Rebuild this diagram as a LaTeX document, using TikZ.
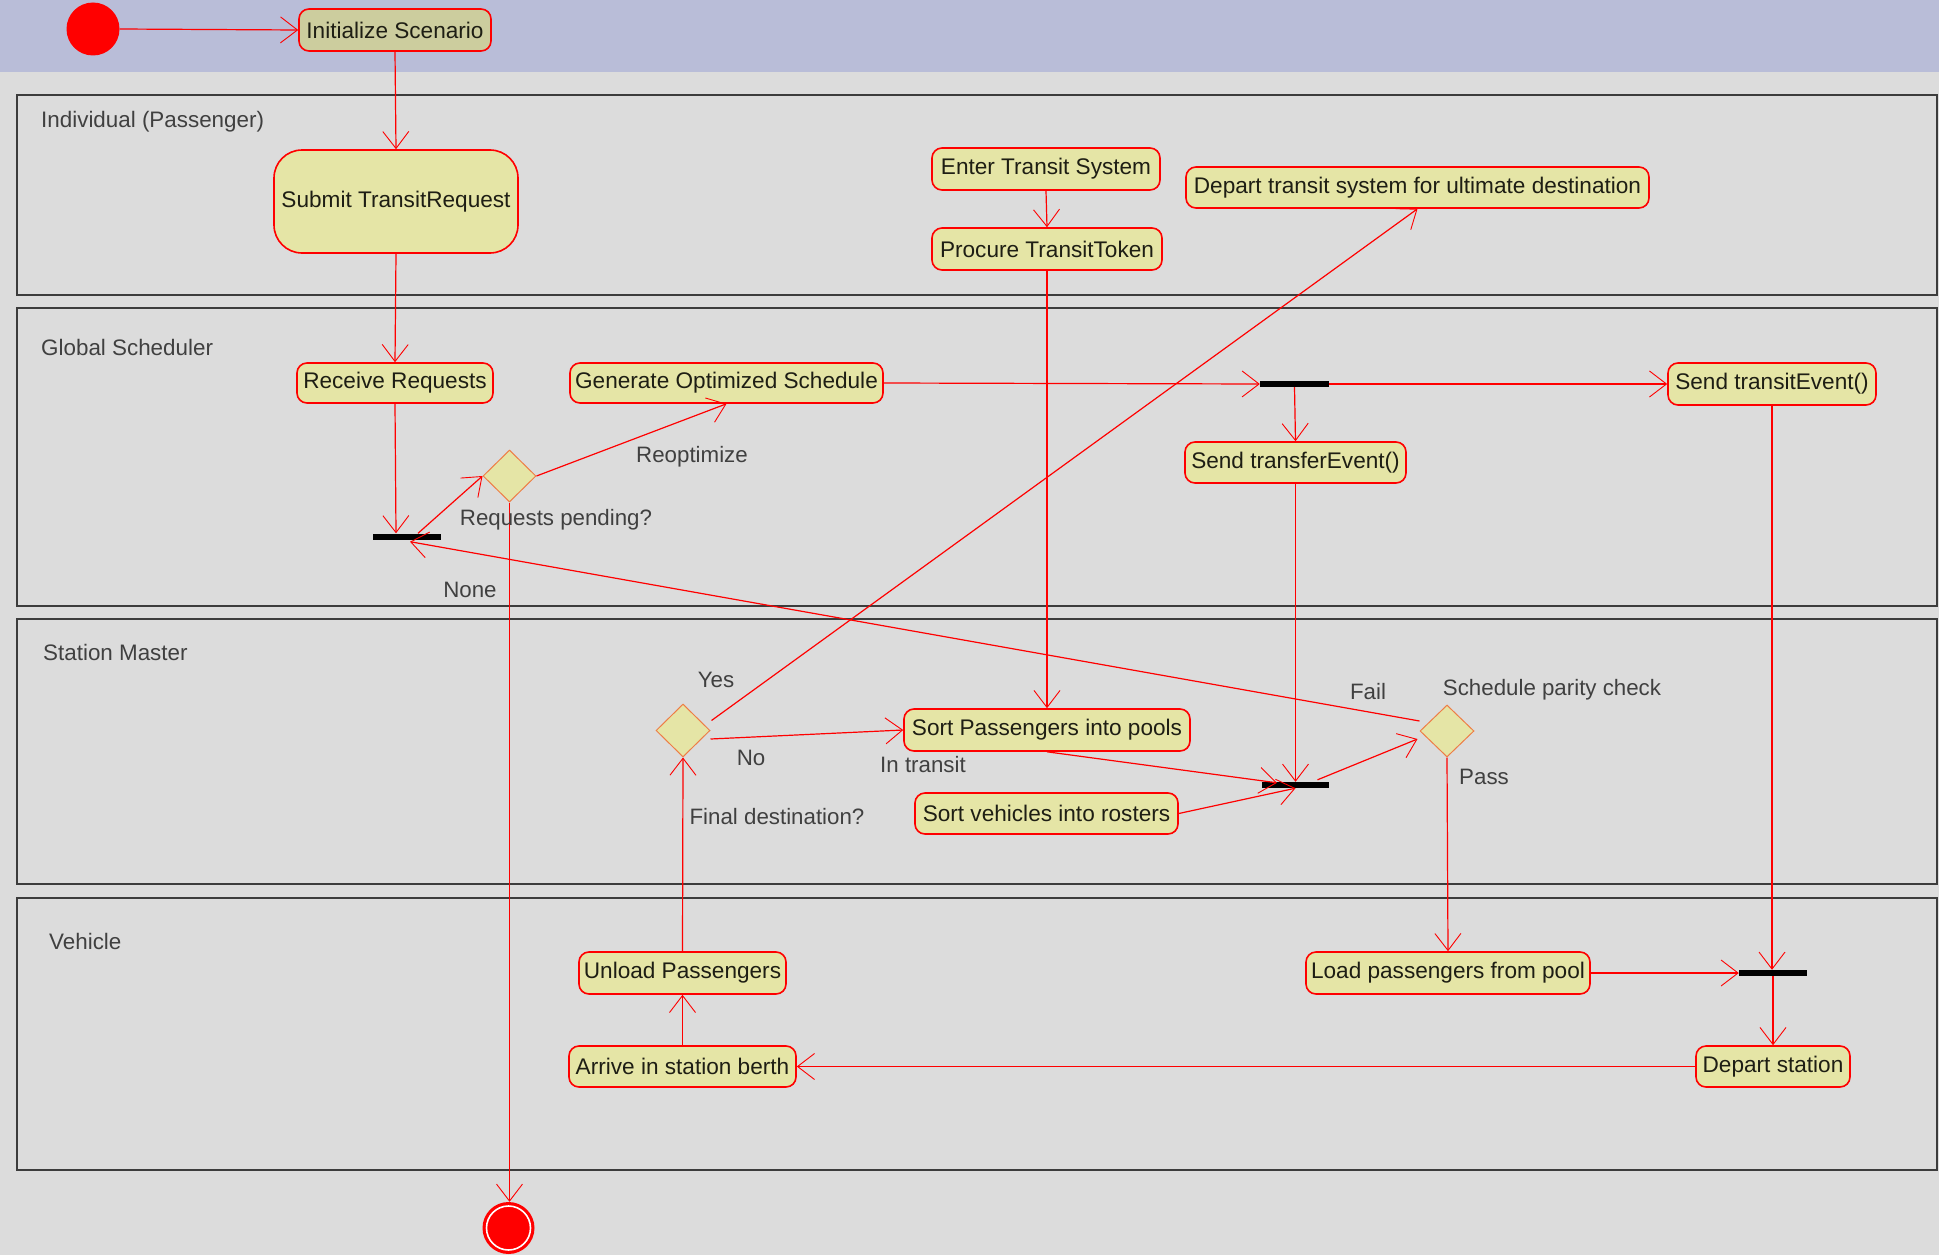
\documentclass[tikz,border=0pt]{standalone}
\usepackage{fontspec}
\setmainfont{Liberation Sans}
\usetikzlibrary{arrows.meta,shapes.geometric,calc}

\definecolor{bandblue}{RGB}{185,189,216}
\definecolor{canvas}{RGB}{220,220,220}
\definecolor{actfill}{RGB}{229,229,166}
\definecolor{initfill}{RGB}{204,205,158}
\definecolor{lanegray}{RGB}{60,60,60}
\definecolor{diaedge}{RGB}{238,125,70}
\definecolor{labelgray}{RGB}{64,64,64}
\definecolor{textdark}{RGB}{30,30,20}

\tikzset{
  activity/.style={draw=red, line width=1.6pt, fill=actfill, rounded corners=10pt,
    inner sep=0pt, text=textdark, font=\fontsize{22.6}{26}\selectfont},
  bar/.style={fill=black, draw=none, inner sep=0pt, minimum height=6pt},
  decision/.style={diamond, draw=diaedge, line width=1pt, fill=actfill, inner sep=0pt},
  flow/.style={draw=red, line width=1.2pt,
    -{Straight Barb[length=17pt,width=26pt,line width=0.9pt]}},
  guard/.style={text=labelgray, inner sep=0pt, font=\fontsize{22.3}{26}\selectfont},
  lane/.style={draw=lanegray, line width=2pt},
  lanename/.style={anchor=west, inner sep=0pt, text=labelgray, font=\fontsize{22.4}{26}\selectfont}
}

\begin{document}
\begin{tikzpicture}[x=1pt,y=-1pt]
  % canvas and title band
  \fill[canvas] (0,0) rectangle (1939,1255);
  \fill[bandblue] (0,0) rectangle (1939,72);
  \useasboundingbox (0,0) rectangle (1939,1255);

  % swimlanes
  \draw[lane] (17,95) rectangle (1937,295);
  \draw[lane] (17,308) rectangle (1937,606);
  \draw[lane] (17,619) rectangle (1937,884);
  \draw[lane] (17,898) rectangle (1937,1170);
  \node[lanename] (laneA) at (41,122) {Individual (Passenger)};
  \node[lanename] (laneB) at (41,347) {Global Scheduler};
  \node[lanename] (laneC) at (43,652) {Station Master};
  \node[lanename] (laneD) at (49,941) {Vehicle};

  % initial and final nodes
  \node[circle, fill=red, inner sep=0pt, minimum size=53pt] (start) at (93,29) {};
  \node[circle, fill=red, inner sep=0pt, minimum size=52pt] (final) at (508.5,1228) {};
  \draw[white, line width=1.6pt] (final.center) circle (22);

  % activities
  \node[activity, fill=initfill, minimum width=192pt, minimum height=42pt] (init) at (395,30) {Initialize Scenario};
  \node[activity, rounded corners=28pt, minimum width=244pt, minimum height=103pt] (submit) at (396,201.5) {Submit TransitRequest};
  \node[activity, minimum width=228pt, minimum height=42pt] (enter) at (1046,169) {Enter Transit System};
  \node[activity, minimum width=230pt, minimum height=42pt] (procure) at (1047,249) {Procure TransitToken};
  \node[activity, minimum width=463pt, minimum height=41pt] (departsys) at (1417.5,187.5) {Depart transit system for ultimate destination};
  \node[activity, minimum width=196pt, minimum height=40pt] (recv) at (395,383) {Receive Requests};
  \node[activity, minimum width=313pt, minimum height=40pt] (gen) at (726.5,383) {Generate Optimized Schedule};
  \node[activity, minimum width=208pt, minimum height=42pt] (transitev) at (1772,384) {Send transitEvent()};
  \node[activity, minimum width=221pt, minimum height=41pt] (transferev) at (1295.5,462.5) {Send transferEvent()};
  \node[activity, minimum width=286pt, minimum height=42pt] (sortpass) at (1047,730) {Sort Passengers into pools};
  \node[activity, minimum width=263pt, minimum height=41pt] (sortveh) at (1046.5,813.5) {Sort vehicles into rosters};
  \node[activity, minimum width=207pt, minimum height=42pt] (unload) at (682.5,973) {Unload Passengers};
  \node[activity, minimum width=227pt, minimum height=41pt] (arrive) at (682.5,1066.5) {Arrive in station berth};
  \node[activity, minimum width=284pt, minimum height=42pt] (loadp) at (1448,973) {Load passengers from pool};
  \node[activity, minimum width=154pt, minimum height=41pt] (departst) at (1773,1066.5) {Depart station};

  % fork / join bars
  \node[bar, minimum width=69pt] (fork1) at (1294.5,384) {};
  \node[bar, minimum width=68pt] (join2) at (407,536.5) {};
  \node[bar, minimum width=67pt] (join3) at (1295.5,785) {};
  \node[bar, minimum width=68pt] (fork4) at (1773,973) {};

  % decisions
  \node[decision, minimum width=53pt, minimum height=52pt] (reqpend) at (509.5,476) {};
  \node[decision, minimum width=54pt, minimum height=53pt] (finaldest) at (683,730.5) {};
  \node[decision, minimum width=54pt, minimum height=52pt] (parity) at (1447,731) {};

  % flows
  \draw[flow] (start.east) -- (init.west);
  \draw[flow] (init.south) -- (submit.north);
  \draw[flow] (submit.south) -- (recv.north);
  \draw[flow] (recv.south) -- ($(join2.north)+(-11,0)$);
  \draw[flow] ($(join2.north)+(11,0)$) -- (reqpend.west);
  \draw[flow] (reqpend.east) -- (gen.south);
  \draw[flow] (reqpend.south) -- (reqpend.south |- final.north);
  \draw[flow] (gen.east) -- (fork1.west);
  \draw[flow] (fork1.east) -- (transitev.west);
  \draw[flow] (fork1.south) -- (transferev.north);
  \draw[flow] (enter.south) -- (procure.north);
  \draw[flow] (procure.south) -- (sortpass.north);
  \draw[flow] (transferev.south) -- (join3.north);
  \draw[flow] (sortpass.south) -- ($(join3.north)+(-18.5,1)$);
  \draw[flow] (sortveh.east) -- (join3.south);
  \draw[flow] ($(join3.north)+(22,-2)$) -- ($(parity.west)+(-2,8)$);
  \draw[flow] ($(parity.west)+(0,-10)$) -- ($(join2.south)+(3,2)$);
  \draw[flow] (parity.south) -- (loadp.north);
  \draw[flow] ($(finaldest.east)+(1,-10)$) -- (departsys.south);
  \draw[flow] ($(finaldest.east)+(0,8.5)$) -- (sortpass.west);
  \draw[flow] (unload.north) -- (finaldest.south);
  \draw[flow] (arrive.north) -- (unload.south);
  \draw[flow] (loadp.east) -- (fork4.west);
  \draw[flow] (transitev.south) -- (transitev.south |- fork4.north);
  \draw[flow] (fork4.south) -- (departst.north);
  \draw[flow] (departst.west) -- (arrive.east);

  % guard and decision labels
  \node[guard] (lreopt) at (692,457) {Reoptimize};
  \node[guard] (lreq) at (556,520) {Requests pending?};
  \node[guard] (lnone) at (470,590) {None};
  \node[guard] (lyes) at (716,680) {Yes};
  \node[guard] (lno) at (751,758) {No};
  \node[guard] (ltransit) at (923,765) {In transit};
  \node[guard] (lfinal) at (777,817) {Final destination?};
  \node[guard] (lfail) at (1368,692) {Fail};
  \node[guard] (lparity) at (1552,690) {Schedule parity check};
  \node[guard] (lpass) at (1484,777) {Pass};
\end{tikzpicture}
\end{document}
